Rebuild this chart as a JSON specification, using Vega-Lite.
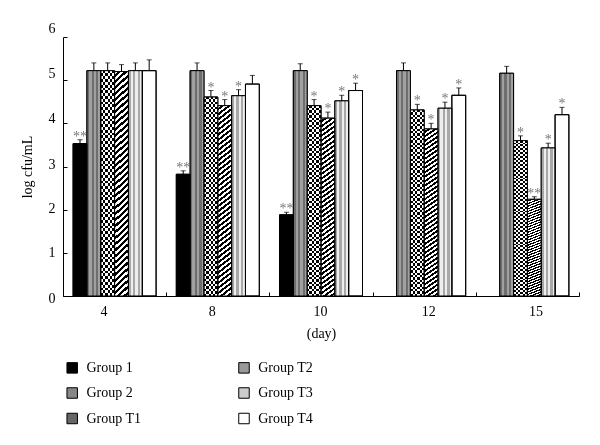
{
  "$schema": "https://vega.github.io/schema/vega-lite/v6.json",
  "width": 516,
  "height": 259,
  "autosize": {"type": "none"},
  "padding": {"left": 63, "top": 37, "right": 21, "bottom": 149},
  "background": "white",
  "data": {"values": [
    {"day": "4", "group": "Group 1", "value": 3.53, "top": 3.62, "sig": "**"},
    {"day": "4", "group": "Group 2", "value": 5.22, "top": 5.40, "sig": ""},
    {"day": "4", "group": "Group T1", "value": 5.22, "top": 5.40, "sig": ""},
    {"day": "4", "group": "Group T2", "value": 5.20, "top": 5.36, "sig": ""},
    {"day": "4", "group": "Group T3", "value": 5.22, "top": 5.40, "sig": ""},
    {"day": "4", "group": "Group T4", "value": 5.22, "top": 5.47, "sig": ""},
    {"day": "8", "group": "Group 1", "value": 2.82, "top": 2.90, "sig": "**"},
    {"day": "8", "group": "Group 2", "value": 5.22, "top": 5.40, "sig": ""},
    {"day": "8", "group": "Group T1", "value": 4.61, "top": 4.76, "sig": "*"},
    {"day": "8", "group": "Group T2", "value": 4.41, "top": 4.55, "sig": "*"},
    {"day": "8", "group": "Group T3", "value": 4.64, "top": 4.78, "sig": "*"},
    {"day": "8", "group": "Group T4", "value": 4.91, "top": 5.11, "sig": ""},
    {"day": "10", "group": "Group 1", "value": 1.88, "top": 1.94, "sig": "**"},
    {"day": "10", "group": "Group 2", "value": 5.22, "top": 5.38, "sig": ""},
    {"day": "10", "group": "Group T1", "value": 4.41, "top": 4.55, "sig": "*"},
    {"day": "10", "group": "Group T2", "value": 4.12, "top": 4.26, "sig": "*"},
    {"day": "10", "group": "Group T3", "value": 4.52, "top": 4.65, "sig": "*"},
    {"day": "10", "group": "Group T4", "value": 4.76, "top": 4.93, "sig": "*"},
    {"day": "12", "group": "Group 2", "value": 5.22, "top": 5.40, "sig": ""},
    {"day": "12", "group": "Group T1", "value": 4.31, "top": 4.44, "sig": "*"},
    {"day": "12", "group": "Group T2", "value": 3.87, "top": 4.00, "sig": "*"},
    {"day": "12", "group": "Group T3", "value": 4.35, "top": 4.49, "sig": "*"},
    {"day": "12", "group": "Group T4", "value": 4.65, "top": 4.82, "sig": "*"},
    {"day": "15", "group": "Group 2", "value": 5.16, "top": 5.32, "sig": ""},
    {"day": "15", "group": "Group T1", "value": 3.60, "top": 3.71, "sig": "*"},
    {"day": "15", "group": "Group T2", "value": 2.24, "top": 2.30, "sig": "**"},
    {"day": "15", "group": "Group T3", "value": 3.43, "top": 3.54, "sig": "*"},
    {"day": "15", "group": "Group T4", "value": 4.20, "top": 4.37, "sig": "*"}
  ]},
  "encoding": {
    "x": {
      "field": "day", "type": "nominal", "sort": ["4", "8", "10", "12", "15"],
      "scale": {"paddingInner": 0, "paddingOuter": 0},
      "axis": {
        "title": "(day)", "labelAngle": 0, "tickBand": "extent", "titlePadding": 8,
        "labelOffset": {"condition": [
          {"test": "datum.value === '4'", "value": -11},
          {"test": "datum.value === '8'", "value": -6},
          {"test": "datum.value === '10'", "value": -1},
          {"test": "datum.value === '12'", "value": 4},
          {"test": "datum.value === '15'", "value": 8}
        ], "value": 0}
      }
    },
    "xOffset": {
      "field": "group", "type": "nominal",
      "scale": {"domain": ["Group 1", "Group 2", "Group T1", "Group T2", "Group T3", "Group T4"], "paddingInner": 0, "paddingOuter": 0.73}
    },
    "y": {
      "field": "value", "type": "quantitative",
      "scale": {"domain": [0, 6], "nice": false},
      "axis": {
        "title": "log cfu/mL", "values": [0, 1, 2, 3, 4, 5, 6], "titlePadding": 14,
        "labelOffset": {"condition": [
          {"test": "datum.value === 0", "value": 2},
          {"test": "datum.value === 2", "value": -1},
          {"test": "datum.value === 3", "value": -2.5},
          {"test": "datum.value === 4", "value": -4.5},
          {"test": "datum.value === 5", "value": -6.5},
          {"test": "datum.value === 6", "value": -9}
        ], "value": 0}
      }
    }
  },
  "layer": [
    {
      "mark": {"type": "bar", "stroke": "#000", "strokeWidth": 1},
      "encoding": {
        "fill": {
          "field": "group", "type": "nominal",
          "scale": {
            "domain": ["Group 1", "Group 2", "Group T1", "Group T2", "Group T3", "Group T4"],
            "range": ["#000000", "#878787", "#666666", "#999999", "#cdcdcd", "#ffffff"]
          },
          "legend": {
            "values": ["Group 1", "Group 2", "Group T1", "Group T2", "Group T3", "Group T4"],
            "columns": 2, "orient": "none", "legendX": 2.2, "legendY": 323.5, "title": null,
            "symbolType": "square", "symbolSize": 110, "symbolStrokeColor": "#000", "symbolStrokeWidth": 1,
            "labelFontSize": 14, "labelOffset": 7.2, "rowPadding": 9.5, "columnPadding": 93.8, "padding": 0,
            "labelColor": "#000", "labelFont": "Liberation Serif"
          }
        }
      }
    },
    {
      "transform": [{"filter": "datum.group === 'Group 2'"}],
      "mark": {"type": "bar", "strokeWidth": 0,
        "fill": {"gradient": "linear", "x1": 0, "y1": 0, "x2": 1, "y2": 0, "stops": [
          {"offset": 0, "color": "#6e6e6e"}, {"offset": 0.1667, "color": "#6e6e6e"},
          {"offset": 0.1667, "color": "#a0a0a0"}, {"offset": 0.3333, "color": "#a0a0a0"},
          {"offset": 0.3333, "color": "#6e6e6e"}, {"offset": 0.5, "color": "#6e6e6e"},
          {"offset": 0.5, "color": "#a0a0a0"}, {"offset": 0.6667, "color": "#a0a0a0"},
          {"offset": 0.6667, "color": "#6e6e6e"}, {"offset": 0.8333, "color": "#6e6e6e"},
          {"offset": 0.8333, "color": "#a0a0a0"}, {"offset": 1, "color": "#a0a0a0"}
        ]}
      }
    },
    {
      "transform": [{"filter": "datum.group === 'Group T1'"}],
      "mark": {"type": "bar", "strokeWidth": 0,
        "fill": {"gradient": "linear", "x1": 0, "y1": 0, "x2": 1, "y2": 0, "stops": [
          {"offset": 0, "color": "#000"}, {"offset": 0.1667, "color": "#000"},
          {"offset": 0.1667, "color": "#fff"}, {"offset": 0.3333, "color": "#fff"},
          {"offset": 0.3333, "color": "#000"}, {"offset": 0.5, "color": "#000"},
          {"offset": 0.5, "color": "#fff"}, {"offset": 0.6667, "color": "#fff"},
          {"offset": 0.6667, "color": "#000"}, {"offset": 0.8333, "color": "#000"},
          {"offset": 0.8333, "color": "#fff"}, {"offset": 1, "color": "#fff"}
        ]}
      }
    },
    {
      "transform": [{"filter": "datum.group === 'Group T1'"}],
      "mark": {"type": "bar", "blend": "difference", "strokeWidth": 0,
        "fill": {"gradient": "linear", "x1": 0, "y1": 0, "x2": 0, "y2": 1, "stops": [
          {"offset":0,"color":"#fff"},{"offset":0.0125,"color":"#fff"},{"offset":0.0125,"color":"#000"},{"offset":0.025,"color":"#000"},
          {"offset":0.025,"color":"#fff"},{"offset":0.0375,"color":"#fff"},{"offset":0.0375,"color":"#000"},{"offset":0.05,"color":"#000"},
          {"offset":0.05,"color":"#fff"},{"offset":0.0625,"color":"#fff"},{"offset":0.0625,"color":"#000"},{"offset":0.075,"color":"#000"},
          {"offset":0.075,"color":"#fff"},{"offset":0.0875,"color":"#fff"},{"offset":0.0875,"color":"#000"},{"offset":0.1,"color":"#000"},
          {"offset":0.1,"color":"#fff"},{"offset":0.1125,"color":"#fff"},{"offset":0.1125,"color":"#000"},{"offset":0.125,"color":"#000"},
          {"offset":0.125,"color":"#fff"},{"offset":0.1375,"color":"#fff"},{"offset":0.1375,"color":"#000"},{"offset":0.15,"color":"#000"},
          {"offset":0.15,"color":"#fff"},{"offset":0.1625,"color":"#fff"},{"offset":0.1625,"color":"#000"},{"offset":0.175,"color":"#000"},
          {"offset":0.175,"color":"#fff"},{"offset":0.1875,"color":"#fff"},{"offset":0.1875,"color":"#000"},{"offset":0.2,"color":"#000"},
          {"offset":0.2,"color":"#fff"},{"offset":0.2125,"color":"#fff"},{"offset":0.2125,"color":"#000"},{"offset":0.225,"color":"#000"},
          {"offset":0.225,"color":"#fff"},{"offset":0.2375,"color":"#fff"},{"offset":0.2375,"color":"#000"},{"offset":0.25,"color":"#000"},
          {"offset":0.25,"color":"#fff"},{"offset":0.2625,"color":"#fff"},{"offset":0.2625,"color":"#000"},{"offset":0.275,"color":"#000"},
          {"offset":0.275,"color":"#fff"},{"offset":0.2875,"color":"#fff"},{"offset":0.2875,"color":"#000"},{"offset":0.3,"color":"#000"},
          {"offset":0.3,"color":"#fff"},{"offset":0.3125,"color":"#fff"},{"offset":0.3125,"color":"#000"},{"offset":0.325,"color":"#000"},
          {"offset":0.325,"color":"#fff"},{"offset":0.3375,"color":"#fff"},{"offset":0.3375,"color":"#000"},{"offset":0.35,"color":"#000"},
          {"offset":0.35,"color":"#fff"},{"offset":0.3625,"color":"#fff"},{"offset":0.3625,"color":"#000"},{"offset":0.375,"color":"#000"},
          {"offset":0.375,"color":"#fff"},{"offset":0.3875,"color":"#fff"},{"offset":0.3875,"color":"#000"},{"offset":0.4,"color":"#000"},
          {"offset":0.4,"color":"#fff"},{"offset":0.4125,"color":"#fff"},{"offset":0.4125,"color":"#000"},{"offset":0.425,"color":"#000"},
          {"offset":0.425,"color":"#fff"},{"offset":0.4375,"color":"#fff"},{"offset":0.4375,"color":"#000"},{"offset":0.45,"color":"#000"},
          {"offset":0.45,"color":"#fff"},{"offset":0.4625,"color":"#fff"},{"offset":0.4625,"color":"#000"},{"offset":0.475,"color":"#000"},
          {"offset":0.475,"color":"#fff"},{"offset":0.4875,"color":"#fff"},{"offset":0.4875,"color":"#000"},{"offset":0.5,"color":"#000"},
          {"offset":0.5,"color":"#fff"},{"offset":0.5125,"color":"#fff"},{"offset":0.5125,"color":"#000"},{"offset":0.525,"color":"#000"},
          {"offset":0.525,"color":"#fff"},{"offset":0.5375,"color":"#fff"},{"offset":0.5375,"color":"#000"},{"offset":0.55,"color":"#000"},
          {"offset":0.55,"color":"#fff"},{"offset":0.5625,"color":"#fff"},{"offset":0.5625,"color":"#000"},{"offset":0.575,"color":"#000"},
          {"offset":0.575,"color":"#fff"},{"offset":0.5875,"color":"#fff"},{"offset":0.5875,"color":"#000"},{"offset":0.6,"color":"#000"},
          {"offset":0.6,"color":"#fff"},{"offset":0.6125,"color":"#fff"},{"offset":0.6125,"color":"#000"},{"offset":0.625,"color":"#000"},
          {"offset":0.625,"color":"#fff"},{"offset":0.6375,"color":"#fff"},{"offset":0.6375,"color":"#000"},{"offset":0.65,"color":"#000"},
          {"offset":0.65,"color":"#fff"},{"offset":0.6625,"color":"#fff"},{"offset":0.6625,"color":"#000"},{"offset":0.675,"color":"#000"},
          {"offset":0.675,"color":"#fff"},{"offset":0.6875,"color":"#fff"},{"offset":0.6875,"color":"#000"},{"offset":0.7,"color":"#000"},
          {"offset":0.7,"color":"#fff"},{"offset":0.7125,"color":"#fff"},{"offset":0.7125,"color":"#000"},{"offset":0.725,"color":"#000"},
          {"offset":0.725,"color":"#fff"},{"offset":0.7375,"color":"#fff"},{"offset":0.7375,"color":"#000"},{"offset":0.75,"color":"#000"},
          {"offset":0.75,"color":"#fff"},{"offset":0.7625,"color":"#fff"},{"offset":0.7625,"color":"#000"},{"offset":0.775,"color":"#000"},
          {"offset":0.775,"color":"#fff"},{"offset":0.7875,"color":"#fff"},{"offset":0.7875,"color":"#000"},{"offset":0.8,"color":"#000"},
          {"offset":0.8,"color":"#fff"},{"offset":0.8125,"color":"#fff"},{"offset":0.8125,"color":"#000"},{"offset":0.825,"color":"#000"},
          {"offset":0.825,"color":"#fff"},{"offset":0.8375,"color":"#fff"},{"offset":0.8375,"color":"#000"},{"offset":0.85,"color":"#000"},
          {"offset":0.85,"color":"#fff"},{"offset":0.8625,"color":"#fff"},{"offset":0.8625,"color":"#000"},{"offset":0.875,"color":"#000"},
          {"offset":0.875,"color":"#fff"},{"offset":0.8875,"color":"#fff"},{"offset":0.8875,"color":"#000"},{"offset":0.9,"color":"#000"},
          {"offset":0.9,"color":"#fff"},{"offset":0.9125,"color":"#fff"},{"offset":0.9125,"color":"#000"},{"offset":0.925,"color":"#000"},
          {"offset":0.925,"color":"#fff"},{"offset":0.9375,"color":"#fff"},{"offset":0.9375,"color":"#000"},{"offset":0.95,"color":"#000"},
          {"offset":0.95,"color":"#fff"},{"offset":0.9625,"color":"#fff"},{"offset":0.9625,"color":"#000"},{"offset":0.975,"color":"#000"},
          {"offset":0.975,"color":"#fff"},{"offset":0.9875,"color":"#fff"},{"offset":0.9875,"color":"#000"},{"offset":1,"color":"#000"}
        ]}
      }
    },
    {
      "transform": [{"filter": "datum.group === 'Group T2'"}],
      "mark": {"type": "bar", "strokeWidth": 0,
        "fill": {"gradient": "linear", "x1": 0, "y1": 0, "x2": 0.06, "y2": 1.07, "stops": [
          {"offset":0,"color":"#fff"},{"offset":0.0125,"color":"#fff"},{"offset":0.0125,"color":"#000"},{"offset":0.025,"color":"#000"},
          {"offset":0.025,"color":"#fff"},{"offset":0.0375,"color":"#fff"},{"offset":0.0375,"color":"#000"},{"offset":0.05,"color":"#000"},
          {"offset":0.05,"color":"#fff"},{"offset":0.0625,"color":"#fff"},{"offset":0.0625,"color":"#000"},{"offset":0.075,"color":"#000"},
          {"offset":0.075,"color":"#fff"},{"offset":0.0875,"color":"#fff"},{"offset":0.0875,"color":"#000"},{"offset":0.1,"color":"#000"},
          {"offset":0.1,"color":"#fff"},{"offset":0.1125,"color":"#fff"},{"offset":0.1125,"color":"#000"},{"offset":0.125,"color":"#000"},
          {"offset":0.125,"color":"#fff"},{"offset":0.1375,"color":"#fff"},{"offset":0.1375,"color":"#000"},{"offset":0.15,"color":"#000"},
          {"offset":0.15,"color":"#fff"},{"offset":0.1625,"color":"#fff"},{"offset":0.1625,"color":"#000"},{"offset":0.175,"color":"#000"},
          {"offset":0.175,"color":"#fff"},{"offset":0.1875,"color":"#fff"},{"offset":0.1875,"color":"#000"},{"offset":0.2,"color":"#000"},
          {"offset":0.2,"color":"#fff"},{"offset":0.2125,"color":"#fff"},{"offset":0.2125,"color":"#000"},{"offset":0.225,"color":"#000"},
          {"offset":0.225,"color":"#fff"},{"offset":0.2375,"color":"#fff"},{"offset":0.2375,"color":"#000"},{"offset":0.25,"color":"#000"},
          {"offset":0.25,"color":"#fff"},{"offset":0.2625,"color":"#fff"},{"offset":0.2625,"color":"#000"},{"offset":0.275,"color":"#000"},
          {"offset":0.275,"color":"#fff"},{"offset":0.2875,"color":"#fff"},{"offset":0.2875,"color":"#000"},{"offset":0.3,"color":"#000"},
          {"offset":0.3,"color":"#fff"},{"offset":0.3125,"color":"#fff"},{"offset":0.3125,"color":"#000"},{"offset":0.325,"color":"#000"},
          {"offset":0.325,"color":"#fff"},{"offset":0.3375,"color":"#fff"},{"offset":0.3375,"color":"#000"},{"offset":0.35,"color":"#000"},
          {"offset":0.35,"color":"#fff"},{"offset":0.3625,"color":"#fff"},{"offset":0.3625,"color":"#000"},{"offset":0.375,"color":"#000"},
          {"offset":0.375,"color":"#fff"},{"offset":0.3875,"color":"#fff"},{"offset":0.3875,"color":"#000"},{"offset":0.4,"color":"#000"},
          {"offset":0.4,"color":"#fff"},{"offset":0.4125,"color":"#fff"},{"offset":0.4125,"color":"#000"},{"offset":0.425,"color":"#000"},
          {"offset":0.425,"color":"#fff"},{"offset":0.4375,"color":"#fff"},{"offset":0.4375,"color":"#000"},{"offset":0.45,"color":"#000"},
          {"offset":0.45,"color":"#fff"},{"offset":0.4625,"color":"#fff"},{"offset":0.4625,"color":"#000"},{"offset":0.475,"color":"#000"},
          {"offset":0.475,"color":"#fff"},{"offset":0.4875,"color":"#fff"},{"offset":0.4875,"color":"#000"},{"offset":0.5,"color":"#000"},
          {"offset":0.5,"color":"#fff"},{"offset":0.5125,"color":"#fff"},{"offset":0.5125,"color":"#000"},{"offset":0.525,"color":"#000"},
          {"offset":0.525,"color":"#fff"},{"offset":0.5375,"color":"#fff"},{"offset":0.5375,"color":"#000"},{"offset":0.55,"color":"#000"},
          {"offset":0.55,"color":"#fff"},{"offset":0.5625,"color":"#fff"},{"offset":0.5625,"color":"#000"},{"offset":0.575,"color":"#000"},
          {"offset":0.575,"color":"#fff"},{"offset":0.5875,"color":"#fff"},{"offset":0.5875,"color":"#000"},{"offset":0.6,"color":"#000"},
          {"offset":0.6,"color":"#fff"},{"offset":0.6125,"color":"#fff"},{"offset":0.6125,"color":"#000"},{"offset":0.625,"color":"#000"},
          {"offset":0.625,"color":"#fff"},{"offset":0.6375,"color":"#fff"},{"offset":0.6375,"color":"#000"},{"offset":0.65,"color":"#000"},
          {"offset":0.65,"color":"#fff"},{"offset":0.6625,"color":"#fff"},{"offset":0.6625,"color":"#000"},{"offset":0.675,"color":"#000"},
          {"offset":0.675,"color":"#fff"},{"offset":0.6875,"color":"#fff"},{"offset":0.6875,"color":"#000"},{"offset":0.7,"color":"#000"},
          {"offset":0.7,"color":"#fff"},{"offset":0.7125,"color":"#fff"},{"offset":0.7125,"color":"#000"},{"offset":0.725,"color":"#000"},
          {"offset":0.725,"color":"#fff"},{"offset":0.7375,"color":"#fff"},{"offset":0.7375,"color":"#000"},{"offset":0.75,"color":"#000"},
          {"offset":0.75,"color":"#fff"},{"offset":0.7625,"color":"#fff"},{"offset":0.7625,"color":"#000"},{"offset":0.775,"color":"#000"},
          {"offset":0.775,"color":"#fff"},{"offset":0.7875,"color":"#fff"},{"offset":0.7875,"color":"#000"},{"offset":0.8,"color":"#000"},
          {"offset":0.8,"color":"#fff"},{"offset":0.8125,"color":"#fff"},{"offset":0.8125,"color":"#000"},{"offset":0.825,"color":"#000"},
          {"offset":0.825,"color":"#fff"},{"offset":0.8375,"color":"#fff"},{"offset":0.8375,"color":"#000"},{"offset":0.85,"color":"#000"},
          {"offset":0.85,"color":"#fff"},{"offset":0.8625,"color":"#fff"},{"offset":0.8625,"color":"#000"},{"offset":0.875,"color":"#000"},
          {"offset":0.875,"color":"#fff"},{"offset":0.8875,"color":"#fff"},{"offset":0.8875,"color":"#000"},{"offset":0.9,"color":"#000"},
          {"offset":0.9,"color":"#fff"},{"offset":0.9125,"color":"#fff"},{"offset":0.9125,"color":"#000"},{"offset":0.925,"color":"#000"},
          {"offset":0.925,"color":"#fff"},{"offset":0.9375,"color":"#fff"},{"offset":0.9375,"color":"#000"},{"offset":0.95,"color":"#000"},
          {"offset":0.95,"color":"#fff"},{"offset":0.9625,"color":"#fff"},{"offset":0.9625,"color":"#000"},{"offset":0.975,"color":"#000"},
          {"offset":0.975,"color":"#fff"},{"offset":0.9875,"color":"#fff"},{"offset":0.9875,"color":"#000"},{"offset":1,"color":"#000"}
        ]}
      }
    },
    {
      "transform": [{"filter": "datum.group === 'Group T3'"}],
      "mark": {"type": "bar", "strokeWidth": 0,
        "fill": {"gradient": "linear", "x1": 0, "y1": 0, "x2": 1, "y2": 0, "stops": [
          {"offset": 0, "color": "#a8a8a8"}, {"offset": 0.1667, "color": "#a8a8a8"},
          {"offset": 0.1667, "color": "#eeeeee"}, {"offset": 0.3333, "color": "#eeeeee"},
          {"offset": 0.3333, "color": "#a8a8a8"}, {"offset": 0.5, "color": "#a8a8a8"},
          {"offset": 0.5, "color": "#eeeeee"}, {"offset": 0.6667, "color": "#eeeeee"},
          {"offset": 0.6667, "color": "#a8a8a8"}, {"offset": 0.8333, "color": "#a8a8a8"},
          {"offset": 0.8333, "color": "#eeeeee"}, {"offset": 1, "color": "#eeeeee"}
        ]}
      }
    },
    {
      "mark": {"type": "bar", "fillOpacity": 0, "stroke": "#000", "strokeWidth": 1}
    },
    {
      "mark": {"type": "rule", "color": "#000", "strokeWidth": 1},
      "encoding": {"y2": {"field": "top"}}
    },
    {
      "mark": {"type": "tick", "orient": "horizontal", "size": 5, "thickness": 1, "color": "#000"},
      "encoding": {"y": {"field": "top", "type": "quantitative", "title": "log cfu/mL"}}
    },
    {
      "mark": {"type": "text", "font": "Liberation Serif", "fontSize": 14, "color": "#777", "baseline": "alphabetic", "dy": 1},
      "encoding": {
        "y": {"field": "top", "type": "quantitative", "title": "log cfu/mL"},
        "text": {"field": "sig"}
      }
    }
  ],
  "config": {
    "view": {"stroke": null},
    "font": "Liberation Serif",
    "axis": {
      "domainColor": "#000", "tickColor": "#000", "labelColor": "#000", "titleColor": "#000",
      "labelFont": "Liberation Serif", "titleFont": "Liberation Serif",
      "labelFontSize": 14, "titleFontSize": 14, "titleFontWeight": "normal",
      "grid": false, "tickSize": -4, "labelPadding": 12, "domainWidth": 1, "tickWidth": 1
    }
  }
}
